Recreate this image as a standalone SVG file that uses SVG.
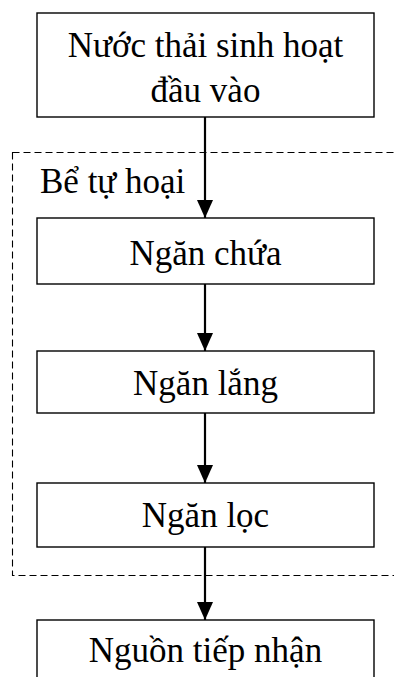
<svg xmlns="http://www.w3.org/2000/svg" width="394" height="677" viewBox="0 0 394 677">
<style>
.box{fill:#fff;stroke:#000;stroke-width:1.4}
.t{font-family:"Liberation Serif","Times New Roman",serif;font-size:35px;fill:#000;text-anchor:middle}
.tl{font-family:"Liberation Serif","Times New Roman",serif;font-size:35px;fill:#000}
.arr{stroke:#000;stroke-width:2.2;fill:none;marker-end:url(#ah)}
</style>
<defs>
<marker id="ah" markerUnits="userSpaceOnUse" markerWidth="18" markerHeight="16" refX="18" refY="8" orient="auto" viewBox="0 0 18 16">
<path d="M0,0 L18,8 L0,16 Z" fill="#000"/>
</marker>
</defs>
<g id="group-be-tu-hoai">
<rect x="12.5" y="152.5" width="400" height="423" fill="none" stroke="#000" stroke-width="1.1" stroke-dasharray="7,4"/>
<text class="tl" x="40" y="193">Bể tự hoại</text>
</g>
<g id="connectors">
<line class="arr" x1="205" y1="117" x2="205" y2="218"/>
<line class="arr" x1="205" y1="284" x2="205" y2="351"/>
<line class="arr" x1="205" y1="413" x2="205" y2="483"/>
<line class="arr" x1="205" y1="547" x2="205" y2="620"/>
</g>
<g id="node-input">
<rect class="box" x="37" y="13" width="337" height="104"/>
<text class="t" x="205.5" y="57">Nước thải sinh hoạt</text>
<text class="t" x="205.5" y="102">đầu vào</text>
</g>
<g id="node-ngan-chua">
<rect class="box" x="37" y="218" width="337" height="66"/>
<text class="t" x="205.5" y="265">Ngăn chứa</text>
</g>
<g id="node-ngan-lang">
<rect class="box" x="37" y="351" width="337" height="62"/>
<text class="t" x="205.5" y="395">Ngăn lắng</text>
</g>
<g id="node-ngan-loc">
<rect class="box" x="37" y="483" width="337" height="64"/>
<text class="t" x="205.5" y="527">Ngăn lọc</text>
</g>
<g id="node-nguon-tiep-nhan">
<rect class="box" x="37" y="620" width="337" height="80"/>
<text class="t" x="205.5" y="662">Nguồn tiếp nhận</text>
</g>
</svg>
